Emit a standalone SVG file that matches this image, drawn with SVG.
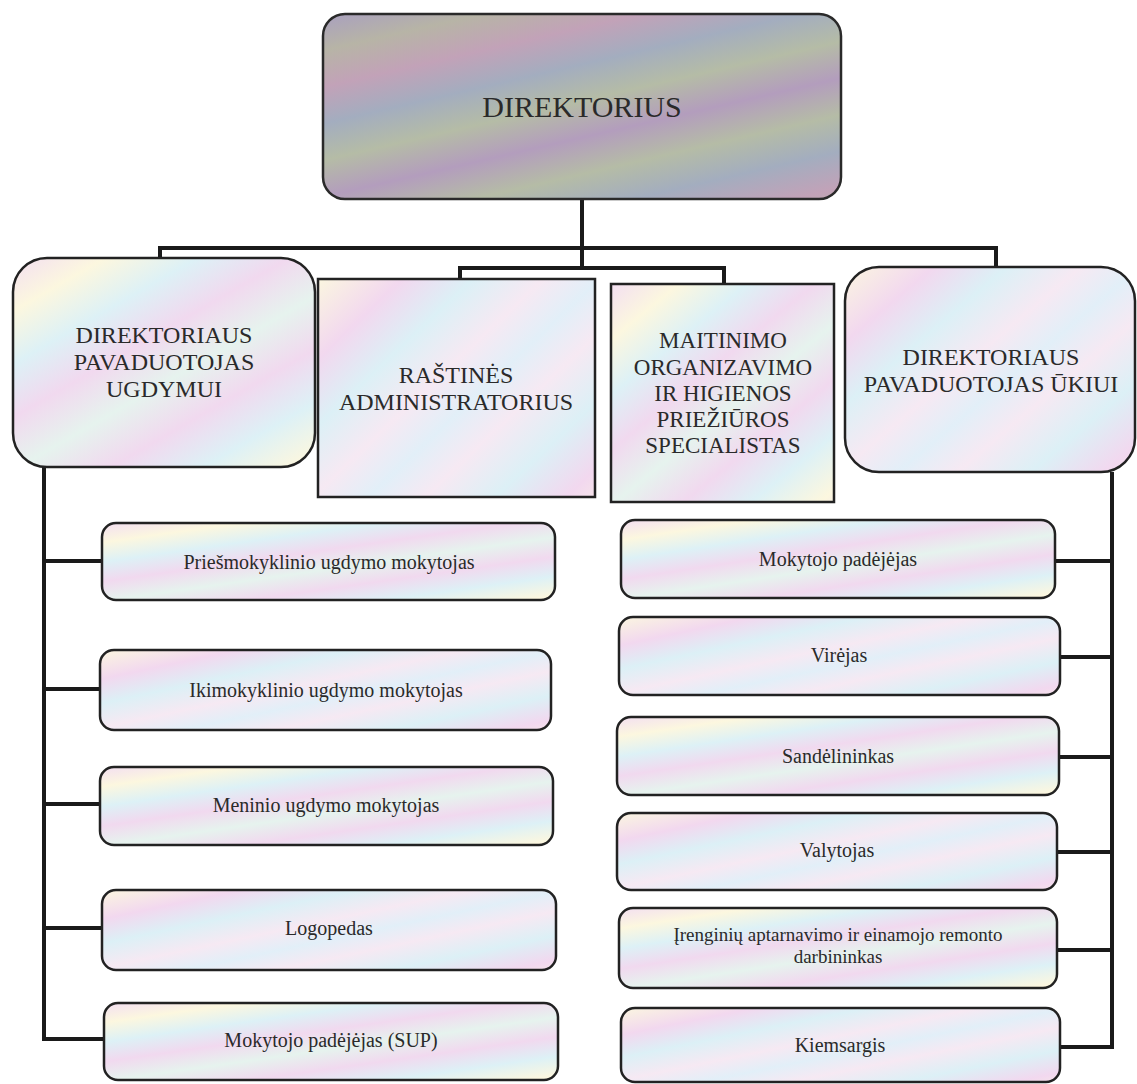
<svg xmlns="http://www.w3.org/2000/svg" width="1137" height="1084" viewBox="0 0 1137 1084">
<defs>
<linearGradient id="dirGrad" x1="0" y1="0" x2="0.45" y2="0.7" spreadMethod="reflect">
<stop offset="0" stop-color="#a9a0bf"/>
<stop offset="0.2" stop-color="#b7b4a6"/>
<stop offset="0.4" stop-color="#c2a2b8"/>
<stop offset="0.6" stop-color="#a3adbf"/>
<stop offset="0.8" stop-color="#b5bca6"/>
<stop offset="1" stop-color="#b39dbd"/>
</linearGradient>
<linearGradient id="pastel" x1="0" y1="0" x2="0.5" y2="0.6" spreadMethod="reflect">
<stop offset="0" stop-color="#f3dff1"/>
<stop offset="0.25" stop-color="#fcf7df"/>
<stop offset="0.5" stop-color="#ddf1f6"/>
<stop offset="0.75" stop-color="#f1d9ef"/>
<stop offset="1" stop-color="#e6f3ee"/>
</linearGradient>
<linearGradient id="pastel2" x1="0" y1="0" x2="0.6" y2="0.5" spreadMethod="reflect">
<stop offset="0" stop-color="#fbf6e0"/>
<stop offset="0.3" stop-color="#f2d8ef"/>
<stop offset="0.55" stop-color="#dcf0f6"/>
<stop offset="0.8" stop-color="#f6e9f3"/>
<stop offset="1" stop-color="#e2eff8"/>
</linearGradient>
</defs>
<style>
.box{stroke:#222;stroke-width:2.5;fill:url(#pastel)}
.box2{stroke:#222;stroke-width:2.5;fill:url(#pastel2)}
.dir{stroke:#2a2a2a;stroke-width:2.5;fill:url(#dirGrad)}
.t{font-family:"Liberation Serif","Times New Roman",serif;fill:#2a2a2a;text-anchor:middle}
.big{font-size:24px}
.mid{font-size:23px}
.small{font-size:20px}
.tiny{font-size:19px}
.conn{fill:none;stroke:#1a1a1a;stroke-width:4;stroke-linejoin:miter}
</style>
<rect width="1137" height="1084" fill="#ffffff"/>
<g id="connectors">
<path class="conn" d="M582 199 V268"/>
<path class="conn" d="M160 259 V248 H996 V267"/>
<path class="conn" d="M460 279 V268 H724 V284"/>
<path class="conn" d="M44 467 V1039 H104"/>
<path class="conn" d="M44 561 H102 M44 689 H100 M44 804 H100 M44 928 H102"/>
<path class="conn" d="M1112 472 V1047 H1060"/>
<path class="conn" d="M1112 561 H1055 M1112 657 H1060 M1112 757 H1059 M1112 852 H1057 M1112 950 H1057"/>
</g>
<g id="direktorius">
<rect class="dir" x="323" y="14" width="518" height="185" rx="22"/>
<text class="t" x="582" y="117" font-size="30">DIREKTORIUS</text>
</g>
<g id="pav-ugdymui">
<rect class="box" x="13" y="258" width="302" height="209" rx="34"/>
<text class="t big" x="164" y="343">DIREKTORIAUS</text>
<text class="t big" x="164" y="370">PAVADUOTOJAS</text>
<text class="t big" x="164" y="397">UGDYMUI</text>
</g>
<g id="rastines">
<rect class="box2" x="318" y="279" width="277" height="218"/>
<text class="t big" x="456" y="383">RAŠTINĖS</text>
<text class="t big" x="456" y="410">ADMINISTRATORIUS</text>
</g>
<g id="maitinimo">
<rect class="box" x="611" y="284" width="223" height="218"/>
<text class="t mid" x="723" y="348">MAITINIMO</text>
<text class="t mid" x="723" y="375">ORGANIZAVIMO</text>
<text class="t mid" x="723" y="401">IR HIGIENOS</text>
<text class="t mid" x="723" y="427">PRIEŽIŪROS</text>
<text class="t mid" x="723" y="453">SPECIALISTAS</text>
</g>
<g id="pav-ukiui">
<rect class="box2" x="845" y="267" width="290" height="205" rx="34"/>
<text class="t big" x="991" y="365">DIREKTORIAUS</text>
<text class="t big" x="991" y="392">PAVADUOTOJAS ŪKIUI</text>
</g>
<g id="priesmokyklinio">
<rect class="box" x="102" y="523" width="453" height="77" rx="14"/>
<text class="t small" x="329" y="569">Priešmokyklinio ugdymo mokytojas</text>
</g>
<g id="ikimokyklinio">
<rect class="box2" x="100" y="650" width="451" height="80" rx="14"/>
<text class="t small" x="326" y="697">Ikimokyklinio ugdymo mokytojas</text>
</g>
<g id="meninio">
<rect class="box" x="100" y="767" width="453" height="78" rx="14"/>
<text class="t small" x="326" y="812">Meninio ugdymo mokytojas</text>
</g>
<g id="logopedas">
<rect class="box2" x="102" y="890" width="454" height="80" rx="14"/>
<text class="t small" x="329" y="935">Logopedas</text>
</g>
<g id="mokytojo-sup">
<rect class="box" x="104" y="1003" width="454" height="77" rx="14"/>
<text class="t small" x="331" y="1047">Mokytojo padėjėjas (SUP)</text>
</g>
<g id="mokytojo-padejejas">
<rect class="box" x="621" y="520" width="434" height="78" rx="14"/>
<text class="t small" x="838" y="566">Mokytojo padėjėjas</text>
</g>
<g id="virejas">
<rect class="box2" x="619" y="617" width="441" height="78" rx="14"/>
<text class="t small" x="839" y="662">Virėjas</text>
</g>
<g id="sandelininkas">
<rect class="box" x="617" y="717" width="442" height="78" rx="14"/>
<text class="t small" x="838" y="763">Sandėlininkas</text>
</g>
<g id="valytojas">
<rect class="box2" x="617" y="813" width="440" height="77" rx="14"/>
<text class="t small" x="837" y="857">Valytojas</text>
</g>
<g id="irenginiu">
<rect class="box" x="619" y="908" width="438" height="80" rx="14"/>
<text class="t tiny" x="838" y="941">Įrenginių aptarnavimo ir einamojo remonto</text>
<text class="t tiny" x="838" y="963">darbininkas</text>
</g>
<g id="kiemsargis">
<rect class="box2" x="621" y="1008" width="439" height="74" rx="14"/>
<text class="t small" x="840" y="1052">Kiemsargis</text>
</g>
</svg>
